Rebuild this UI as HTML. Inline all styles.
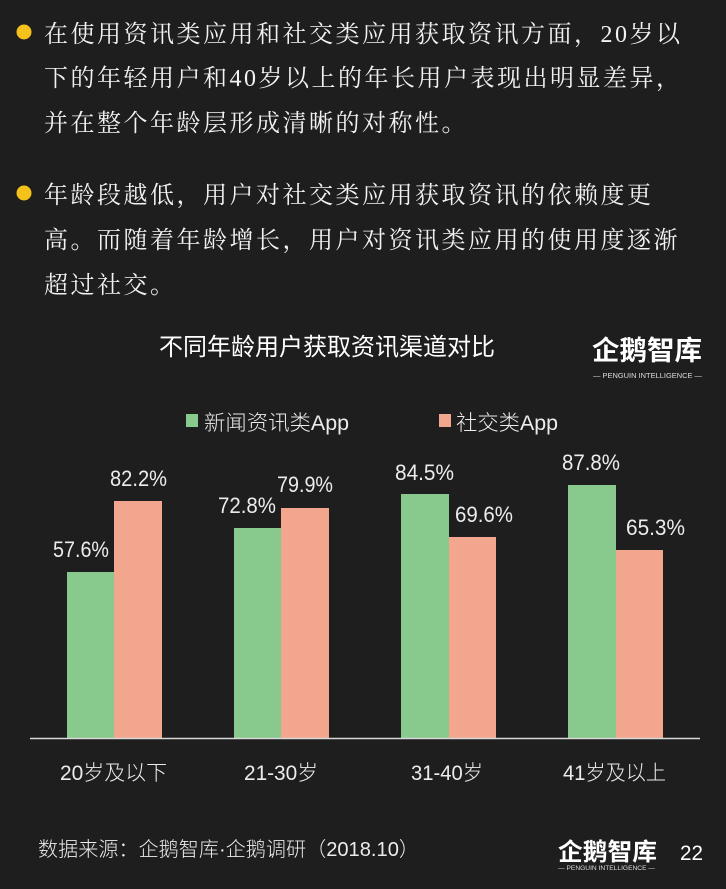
<!DOCTYPE html>
<html>
<head>
<meta charset="utf-8">
<style>
  html, body { margin:0; padding:0; background:#1e1e1e; }
  body { width:726px; height:889px; overflow:hidden; }
  svg { display:block; }
  .serif { font-family:"Liberation Serif","Noto Serif CJK SC",serif; font-size:24px; fill:#f2f2f2; letter-spacing:2.5px; }
  .sans { font-family:"Liberation Sans","Noto Sans CJK SC",sans-serif; }
  .lbl { font-family:"Liberation Sans","Noto Sans CJK SC",sans-serif; font-size:22px; fill:#ececec; font-weight:300; }
  .cat { font-family:"Liberation Sans","Noto Sans CJK SC",sans-serif; font-size:21px; fill:#ececec; font-weight:300; }
</style>
</head>
<body>
<svg width="726" height="889" viewBox="0 0 726 889" xmlns="http://www.w3.org/2000/svg">
  <rect x="0" y="0" width="726" height="889" fill="#1e1e1e"/>

  <!-- bullets -->
  <circle cx="24" cy="32" r="7.5" fill="#f4c21a"/>
  <circle cx="24" cy="193" r="7.5" fill="#f4c21a"/>

  <text class="serif" x="44" y="42">在使用资讯类应用和社交类应用获取资讯方面，20岁以</text>
  <text class="serif" x="44" y="86">下的年轻用户和40岁以上的年长用户表现出明显差异，</text>
  <text class="serif" x="44" y="131">并在整个年龄层形成清晰的对称性。</text>

  <text class="serif" x="44" y="203">年龄段越低，用户对社交类应用获取资讯的依赖度更</text>
  <text class="serif" x="44" y="248">高。而随着年龄增长，用户对资讯类应用的使用度逐渐</text>
  <text class="serif" x="44" y="293">超过社交。</text>

  <!-- chart title -->
  <text class="sans" x="159" y="355" font-size="24" fill="#ffffff" textLength="336" lengthAdjust="spacingAndGlyphs">不同年龄用户获取资讯渠道对比</text>

  <!-- top logo -->
  <text class="sans" x="592" y="360" font-size="27" fill="#ffffff" font-weight="bold" textLength="110" lengthAdjust="spacingAndGlyphs">企鹅智库</text>
  <text class="sans" x="593" y="378" font-size="7.5" fill="#dddddd" textLength="109" lengthAdjust="spacingAndGlyphs">— PENGUIN INTELLIGENCE —</text>

  <!-- legend -->
  <rect x="186" y="414" width="12" height="13" fill="#88c98e"/>
  <text class="sans" x="204" y="430" font-size="21" fill="#ececec" font-weight="300" textLength="145" lengthAdjust="spacingAndGlyphs">新闻资讯类App</text>
  <rect x="439" y="414" width="12" height="13" fill="#f2a68e"/>
  <text class="sans" x="456" y="430" font-size="21" fill="#ececec" font-weight="300" textLength="102" lengthAdjust="spacingAndGlyphs">社交类App</text>

  <!-- bars -->
  <rect x="67"  y="572" width="47" height="166" fill="#88c98e"/>
  <rect x="114" y="501" width="48" height="237" fill="#f2a68e"/>

  <rect x="234" y="528" width="47" height="210" fill="#88c98e"/>
  <rect x="281" y="508" width="48" height="230" fill="#f2a68e"/>

  <rect x="401" y="494" width="48" height="244" fill="#88c98e"/>
  <rect x="449" y="537" width="47" height="201" fill="#f2a68e"/>

  <rect x="568" y="485" width="48" height="253" fill="#88c98e"/>
  <rect x="616" y="550" width="47" height="188" fill="#f2a68e"/>

  <!-- axis -->
  <line x1="30" y1="738.5" x2="700" y2="738.5" stroke="#d8d8d8" stroke-width="1.5"/>

  <!-- value labels -->
  <text class="lbl" x="53"  y="557" textLength="56" lengthAdjust="spacingAndGlyphs">57.6%</text>
  <text class="lbl" x="110" y="486" textLength="57" lengthAdjust="spacingAndGlyphs">82.2%</text>
  <text class="lbl" x="218" y="513" textLength="58" lengthAdjust="spacingAndGlyphs">72.8%</text>
  <text class="lbl" x="277" y="492" textLength="56" lengthAdjust="spacingAndGlyphs">79.9%</text>
  <text class="lbl" x="395" y="480" textLength="59" lengthAdjust="spacingAndGlyphs">84.5%</text>
  <text class="lbl" x="455" y="522" textLength="58" lengthAdjust="spacingAndGlyphs">69.6%</text>
  <text class="lbl" x="562" y="470" textLength="58" lengthAdjust="spacingAndGlyphs">87.8%</text>
  <text class="lbl" x="626" y="535" textLength="59" lengthAdjust="spacingAndGlyphs">65.3%</text>

  <!-- category labels -->
  <text class="cat" x="60"  y="780" textLength="107" lengthAdjust="spacingAndGlyphs">20岁及以下</text>
  <text class="cat" x="244" y="780" textLength="74" lengthAdjust="spacingAndGlyphs">21-30岁</text>
  <text class="cat" x="411" y="780" textLength="72" lengthAdjust="spacingAndGlyphs">31-40岁</text>
  <text class="cat" x="563" y="780" textLength="103" lengthAdjust="spacingAndGlyphs">41岁及以上</text>

  <!-- footer -->
  <text class="sans" x="38" y="856" font-size="20" fill="#ececec" font-weight="300" textLength="381" lengthAdjust="spacingAndGlyphs">数据来源：企鹅智库·企鹅调研（2018.10）</text>

  <text class="sans" x="558" y="860" font-size="24" fill="#ffffff" font-weight="bold" textLength="99" lengthAdjust="spacingAndGlyphs">企鹅智库</text>
  <text class="sans" x="558" y="870" font-size="6.5" fill="#dddddd" textLength="97" lengthAdjust="spacingAndGlyphs">— PENGUIN INTELLIGENCE —</text>

  <text class="sans" x="680" y="860" font-size="21" fill="#ffffff" textLength="23" lengthAdjust="spacingAndGlyphs">22</text>
</svg>
</body>
</html>
